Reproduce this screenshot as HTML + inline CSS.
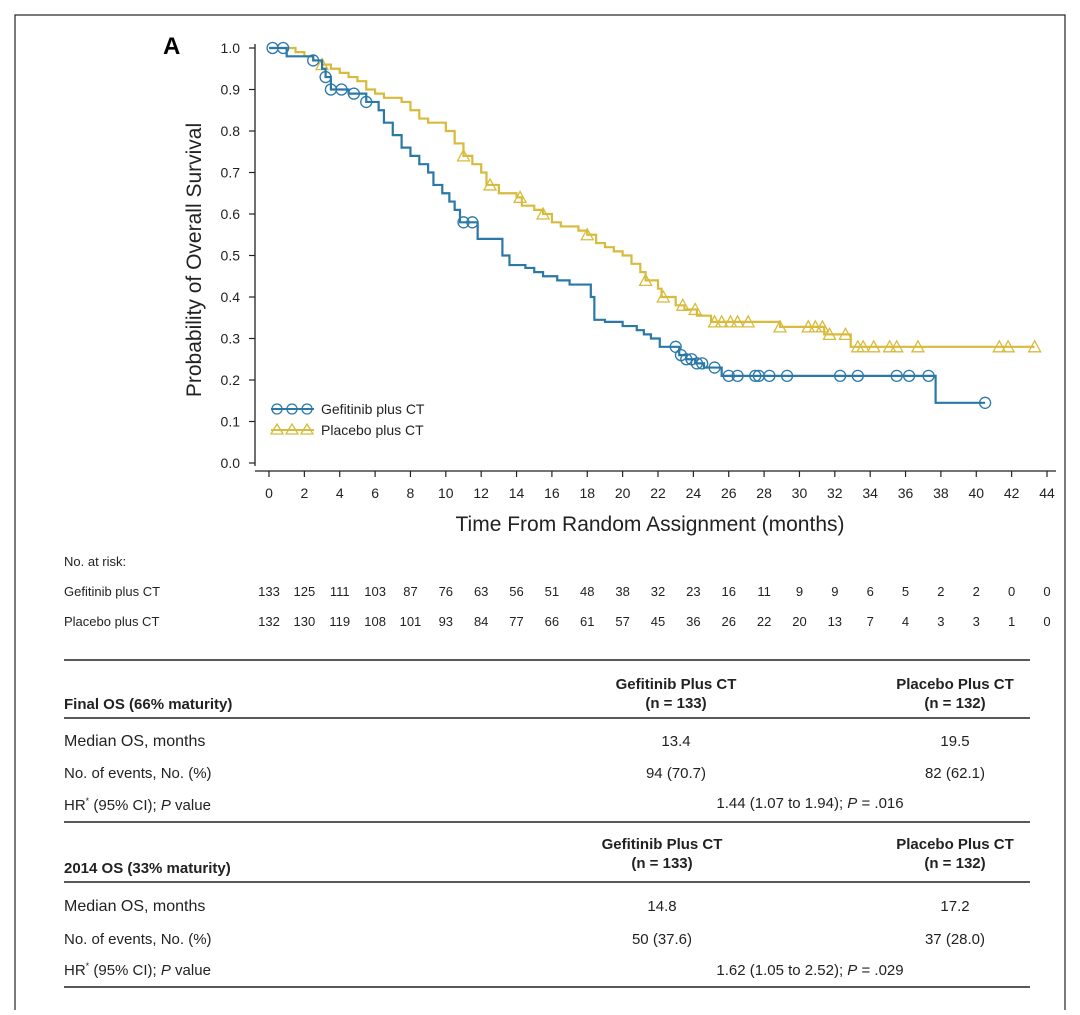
<!DOCTYPE html>
<html><head><meta charset="utf-8">
<style>
html,body{margin:0;padding:0;background:#fff;}
body{width:1080px;height:1010px;overflow:hidden;font-family:"Liberation Sans",sans-serif;}
svg text{font-family:"Liberation Sans",sans-serif;}
</style></head>
<body>
<svg id="chart" width="1080" height="1010" viewBox="0 0 1080 1010">
<rect x="15" y="15" width="1050" height="1010" fill="none" stroke="#222" stroke-width="1.2"/>
<text x="163" y="54" font-size="24" font-weight="bold">A</text>
<g id="axes"></g>
<g id="curves"></g>
<g>
 <g>
  <line x1="271" y1="409" x2="314" y2="409" stroke="#2a78a8" stroke-width="2"/>
  <circle cx="277" cy="409" r="5" fill="none" stroke="#2a78a8" stroke-width="1.3"/>
  <circle cx="292" cy="409" r="5" fill="none" stroke="#2a78a8" stroke-width="1.3"/>
  <circle cx="307" cy="409" r="5" fill="none" stroke="#2a78a8" stroke-width="1.3"/>
  <text x="321" y="414" font-size="14" fill="#222">Gefitinib plus CT</text>
 </g>
 <g>
  <line x1="271" y1="430" x2="314" y2="430" stroke="#d8bb3c" stroke-width="2"/>
  <polygon points="277,424 283,434 271,434" fill="none" stroke="#d8bb3c" stroke-width="1.3"/>
  <polygon points="292,424 298,434 286,434" fill="none" stroke="#d8bb3c" stroke-width="1.3"/>
  <polygon points="307,424 313,434 301,434" fill="none" stroke="#d8bb3c" stroke-width="1.3"/>
  <text x="321" y="435" font-size="14" fill="#222">Placebo plus CT</text>
 </g>
</g>
<text transform="translate(201,260) rotate(-90)" text-anchor="middle" font-size="21" fill="#222">Probability of Overall Survival</text>
<text x="650" y="531" text-anchor="middle" font-size="21" fill="#222">Time From Random Assignment (months)</text>
<g id="risk"></g>
<g font-size="15" fill="#222">
 <line x1="64" y1="660" x2="1030" y2="660" stroke="#222" stroke-width="1.5"/>
 <text x="64" y="709" font-weight="bold">Final OS (66% maturity)</text>
 <text x="676" y="689" text-anchor="middle" font-weight="bold">Gefitinib Plus CT</text>
 <text x="676" y="708" text-anchor="middle" font-weight="bold">(n = 133)</text>
 <text x="955" y="689" text-anchor="middle" font-weight="bold">Placebo Plus CT</text>
 <text x="955" y="708" text-anchor="middle" font-weight="bold">(n = 132)</text>
 <line x1="64" y1="718" x2="1030" y2="718" stroke="#222" stroke-width="1.5"/>
 <text x="64" y="746" font-size="16">Median OS, months</text>
 <text x="676" y="746" text-anchor="middle">13.4</text>
 <text x="955" y="746" text-anchor="middle">19.5</text>
 <text x="64" y="778">No. of events, No. (%)</text>
 <text x="676" y="778" text-anchor="middle">94 (70.7)</text>
 <text x="955" y="778" text-anchor="middle">82 (62.1)</text>
 <text x="64" y="810">HR<tspan font-size="9" dy="-6">*</tspan><tspan dy="6"> (95% CI); </tspan><tspan font-style="italic">P</tspan> value</text>
 <text x="810" y="808" text-anchor="middle">1.44 (1.07 to 1.94); <tspan font-style="italic">P</tspan> = .016</text>
 <line x1="64" y1="822" x2="1030" y2="822" stroke="#222" stroke-width="1.5"/>
 <text x="64" y="873" font-weight="bold">2014 OS (33% maturity)</text>
 <text x="662" y="849" text-anchor="middle" font-weight="bold">Gefitinib Plus CT</text>
 <text x="662" y="868" text-anchor="middle" font-weight="bold">(n = 133)</text>
 <text x="955" y="849" text-anchor="middle" font-weight="bold">Placebo Plus CT</text>
 <text x="955" y="868" text-anchor="middle" font-weight="bold">(n = 132)</text>
 <line x1="64" y1="882" x2="1030" y2="882" stroke="#222" stroke-width="1.5"/>
 <text x="64" y="911" font-size="16">Median OS, months</text>
 <text x="662" y="911" text-anchor="middle">14.8</text>
 <text x="955" y="911" text-anchor="middle">17.2</text>
 <text x="64" y="944">No. of events, No. (%)</text>
 <text x="662" y="944" text-anchor="middle">50 (37.6)</text>
 <text x="955" y="944" text-anchor="middle">37 (28.0)</text>
 <text x="64" y="975">HR<tspan font-size="9" dy="-6">*</tspan><tspan dy="6"> (95% CI); </tspan><tspan font-style="italic">P</tspan> value</text>
 <text x="810" y="975" text-anchor="middle">1.62 (1.05 to 2.52); <tspan font-style="italic">P</tspan> = .029</text>
 <line x1="64" y1="987" x2="1030" y2="987" stroke="#222" stroke-width="1.5"/>
</g>
</svg>
<script>
const xTicks=[0,2,4,6,8,10,12,14,16,18,20,22,24,26,28,30,32,34,36,38,40,42,44];
const yTicks=[0,0.1,0.2,0.3,0.4,0.5,0.6,0.7,0.8,0.9,1.0];
const gefTimes=[0,1,2.5,3,3.2,3.5,4.5,5.5,6.2,6.5,7,7.5,8,8.5,9,9.3,9.8,10.2,10.5,10.8,11.8,13.2,13.6,14.5,15,15.5,16.3,17,18.2,18.4,19,20,20.8,21.2,21.6,22.1,23.2,23.6,24.1,24.6,25.6,37.7];
const gefSurv=[1.0,0.98,0.97,0.95,0.93,0.90,0.89,0.87,0.85,0.82,0.79,0.76,0.74,0.72,0.70,0.67,0.65,0.63,0.61,0.58,0.54,0.50,0.477,0.47,0.46,0.45,0.44,0.43,0.40,0.345,0.34,0.33,0.32,0.31,0.30,0.28,0.26,0.25,0.24,0.23,0.21,0.145];
const gefEnd=40.5;
const gefCensor=[0.2,0.8,2.5,3.2,3.5,4.1,4.8,5.5,11.0,11.5,23.0,23.3,23.6,23.9,24.2,24.5,25.2,26.0,26.5,27.5,27.7,28.3,29.3,32.3,33.3,35.5,36.2,37.3,40.5];
const plaTimes=[0,1.5,2,2.5,3,3.5,4,4.5,5,5.5,6,6.5,7.5,8,8.5,9,10,10.5,11,11.5,12,12.3,13,14,14.3,15,15.5,16,16.5,17.5,18,18.5,19,19.5,20,20.5,21,21.3,22,22.2,23,23.5,24.2,25,28.9,31.4,32.9];
const plaSurv=[1.0,0.99,0.98,0.97,0.96,0.95,0.94,0.93,0.92,0.90,0.89,0.88,0.87,0.85,0.83,0.82,0.80,0.77,0.74,0.72,0.70,0.67,0.65,0.64,0.62,0.61,0.60,0.58,0.57,0.56,0.55,0.53,0.52,0.51,0.50,0.48,0.46,0.44,0.42,0.40,0.38,0.37,0.355,0.34,0.328,0.31,0.28];
const plaEnd=43.3;
const plaCensor=[3.0,11.0,12.5,14.2,15.5,18.0,21.3,22.3,23.4,24.1,25.2,25.6,26.1,26.5,27.1,28.9,30.5,30.9,31.3,31.7,32.6,33.3,33.6,34.2,35.1,35.5,36.7,41.3,41.8,43.3];
const riskTimes=[0,2,4,6,8,10,12,14,16,18,20,22,24,26,28,30,32,34,36,38,40,42,44];
const riskGef=[133,125,111,103,87,76,63,56,51,48,38,32,23,16,11,9,9,6,5,2,2,0,0];
const riskPla=[132,130,119,108,101,93,84,77,66,61,57,45,36,26,22,20,13,7,4,3,3,1,0];

const NS='http://www.w3.org/2000/svg';
const X=t=>269+t*(1047-269)/44;
const Y=s=>463-s*415;
function mk(tag,attrs,parent){const e=document.createElementNS(NS,tag);for(const k in attrs)e.setAttribute(k,attrs[k]);parent.appendChild(e);return e;}
const axes=document.getElementById('axes');
const ya=mk('line',{x1:255,y1:Y(1)-4,x2:255,y2:Y(0)+3,stroke:'#222','stroke-width':1.3},axes);


const xa=mk('line',{x1:255,y1:471,x2:1056,y2:471,stroke:'#222','stroke-width':1.3},axes);


yTicks.forEach(v=>{
 const tk=mk('line',{x1:249,y1:Y(v),x2:255,y2:Y(v),stroke:'#222','stroke-width':1.2},axes);
 
 
 const tx=mk('text',{x:240,y:Y(v)+5,'text-anchor':'end','font-size':14,fill:'#222'},axes);
 tx.textContent=v.toFixed(1);
 
 
});
xTicks.forEach(v=>{
 const tk=mk('line',{x1:X(v),y1:471,x2:X(v),y2:477,stroke:'#222','stroke-width':1.2},axes);
 
 
 const tx=mk('text',{x:X(v),y:498,'text-anchor':'middle','font-size':14,fill:'#222'},axes);
 tx.textContent=v;
 
 
});
function survAt(times,surv,t){let s=surv[0];for(let i=0;i<times.length;i++){if(times[i]<=t)s=surv[i];}return s;}
const curves=document.getElementById('curves');
function drawCurve(times,surv,end,cens,color,name,marker){
 let d='M'+X(times[0])+','+Y(surv[0]);
 for(let i=1;i<times.length;i++){d+=' H'+X(times[i])+' V'+Y(surv[i]);}
 d+=' H'+X(end);
 const p=mk('path',{d:d,fill:'none',stroke:color,'stroke-width':2.2},curves);
 
 
 cens.forEach(t=>{
  const s=survAt(times,surv,t);const cx=X(t),cy=Y(s);
  let m;
  if(marker==='circle'){m=mk('circle',{cx:cx,cy:cy,r:5.5,fill:'none',stroke:color,'stroke-width':1.3},curves);}
  else{m=mk('polygon',{points:`${cx},${cy-6} ${cx+6},${cy+5} ${cx-6},${cy+5}`,fill:'none',stroke:color,'stroke-width':1.3},curves);}
  
  
 });
}
drawCurve(plaTimes,plaSurv,plaEnd,plaCensor,'#d8bb3c','placebo','tri');
drawCurve(gefTimes,gefSurv,gefEnd,gefCensor,'#2a78a8','gefitinib','circle');
const risk=document.getElementById('risk');
const h=mk('text',{x:64,y:566,'font-size':13,fill:'#222'},risk);
h.textContent='No. at risk:';


[['Gefitinib plus CT',riskGef,596],['Placebo plus CT',riskPla,626]].forEach(([lab,arr,y])=>{
 const l=mk('text',{x:64,y:y,'font-size':13,fill:'#222'},risk);
 l.textContent=lab;
 
 
 arr.forEach((n,i)=>{
  const t=mk('text',{x:X(riskTimes[i]),y:y,'text-anchor':'middle','font-size':13,fill:'#222'},risk);
  t.textContent=n;
  
  
 });
});
</script>
</body></html>
